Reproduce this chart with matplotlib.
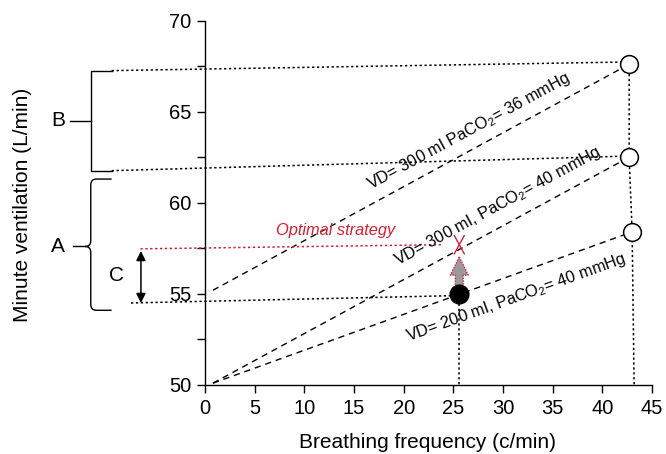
import numpy as np
import matplotlib
matplotlib.use("Agg")
import matplotlib.pyplot as plt
from matplotlib.patches import FancyArrow, PathPatch
from matplotlib.path import Path

plt.rcParams['font.family'] = ['Liberation Sans', 'DejaVu Sans']
plt.rcParams['mathtext.fontset'] = 'custom'
plt.rcParams['mathtext.rm'] = 'Liberation Sans'
plt.rcParams['mathtext.it'] = 'Liberation Sans:italic'

# ---------------- data ----------------
line_labels = ["VD= 300 ml PaCO$_2$= 36 mmHg",
               "VD= 300 ml, PaCO$_2$= 40 mmHg",
               "VD= 200 ml, PaCO$_2$= 40 mmHg"]
line_x_start = [0.8, 0.8, 0.8]
line_y_start = [55.2, 50.1, 50.1]
line_x_end = [42.7, 42.7, 43.0]
line_y_end = [67.6, 62.5, 58.4]

open_x = [42.7, 42.7, 43.0]
open_y = [67.6, 62.5, 58.4]
axis_drop_x = 43.2

current_x = 25.6
current_y = 55.0
optimal_x = 25.6
optimal_y = 57.7

label_pos_x = [26.5, 29.5, 31.3]
label_pos_y = [63.9, 59.8, 54.8]

x_ticks = [0, 5, 10, 15, 20, 25, 30, 35, 40, 45]
y_ticks = [50, 55, 60, 65, 70]
y_minor = [52.5, 57.5, 62.5, 67.5]

red = '#cc2236'

fig = plt.figure(figsize=(6.66, 4.54), dpi=100)
ax = fig.add_axes([205/666, 69/454, 447/666, 364.5/454])
ax.set_xlim(0, 45)
ax.set_ylim(50, 70)

for s in ['top', 'right']:
    ax.spines[s].set_visible(False)
for s in ['left', 'bottom']:
    ax.spines[s].set_linewidth(1.0)
ax.set_xticks(x_ticks)
ax.set_yticks(y_ticks)
ax.set_yticks(y_minor, minor=True)
ax.tick_params(axis='both', which='both', direction='out', length=6, width=1.0)
ax.tick_params(axis='both', which='major', labelsize=14.5, pad=4)

dash = (0, (4.5, 3.5))
dot = (0, (1.5, 1.7))

# dashed iso-lines
for xs, ys, xe, ye in zip(line_x_start, line_y_start, line_x_end, line_y_end):
    ax.plot([xs, xe], [ys, ye], color='black', lw=1.0, linestyle=dash, zorder=2)

def angle(x0, y0, x1, y1):
    p0 = ax.transData.transform((x0, y0))
    p1 = ax.transData.transform((x1, y1))
    return np.degrees(np.arctan2(p1[1]-p0[1], p1[0]-p0[0]))

for lab, lx, ly, xs, ys, xe, ye in zip(line_labels, label_pos_x, label_pos_y,
                                        line_x_start, line_y_start, line_x_end, line_y_end):
    ax.text(lx, ly, lab, rotation=angle(xs, ys, xe, ye), rotation_mode='anchor',
            ha='center', va='center', fontsize=11.8, zorder=5)

# dotted guide lines
kw = dict(color='black', lw=1.1, linestyle=dot, clip_on=False, zorder=2)
ax.plot([-9.4, 42.0], [67.25, 67.72], **kw)
ax.plot([-9.4, 41.9], [61.76, 62.55], **kw)
ax.plot([-7.45, current_x - 0.8], [54.5, 54.9], **kw)
ax.plot([current_x, current_x], [current_y, 50], **kw)
ax.plot(open_x + [axis_drop_x], open_y + [50], **kw)
ax.plot([-6.5, optimal_x - 1.6], [57.47, 57.7], color=red, lw=1.1,
        linestyle=dot, clip_on=False, zorder=2)

# markers
ax.plot(open_x, open_y, 'o', ms=12.8, mfc='white', mec='black', mew=1.1,
        linestyle='none', zorder=6, clip_on=False)
ax.plot([current_x], [current_y], 'o', ms=13.5, color='black', zorder=6)

# red X
ax.plot([optimal_x - 0.5, optimal_x + 0.5], [optimal_y - 0.5, optimal_y + 0.5], color=red, lw=1.0, zorder=6)
ax.plot([optimal_x - 0.5, optimal_x + 0.5], [optimal_y + 0.5, optimal_y - 0.5], color=red, lw=1.0, zorder=6)

# gray arrow
arr = FancyArrow(current_x, 55.38, 0, 57.03 - 55.38, width=0.8, head_width=1.8,
                 head_length=1.0, length_includes_head=True, facecolor='#9a9a9a',
                 edgecolor=red, linestyle=(0, (1, 1)), lw=1.0, zorder=5)
ax.add_patch(arr)

ax.text(13.1, 58.5, 'Optimal strategy', color=red, fontsize=11.8, style='italic',
        ha='center', va='center')

# bracket B
bkw = dict(color='black', lw=1.0, clip_on=False)
ax.plot([-9.4, -11.5, -11.5, -9.4], [67.25, 67.25, 61.76, 61.76], **bkw)
ax.plot([-13.6, -11.5], [64.5, 64.5], **bkw)
ax.text(-14.8, 64.5, 'B', fontsize=15, ha='center', va='center')

# curly brace A
xb, xt, xe = -11.5, -12.05, -9.4
top, bot, mid = 61.3, 54.1, 57.6
verts = [(xe, top), (xb + 0.55, top), (xb, top), (xb, top - 0.33),
         (xb, mid + 0.33), (xb, mid), (xt, mid),
         (xb, mid), (xb, mid - 0.33),
         (xb, bot + 0.33), (xb, bot), (xb + 0.55, bot), (xe, bot)]
codes = [Path.MOVETO, Path.LINETO, Path.CURVE3, Path.CURVE3,
         Path.LINETO, Path.CURVE3, Path.CURVE3,
         Path.CURVE3, Path.CURVE3,
         Path.LINETO, Path.CURVE3, Path.CURVE3, Path.LINETO]
ax.add_patch(PathPatch(Path(verts, codes), facecolor='none', edgecolor='black',
                       lw=1.0, clip_on=False))
ax.plot([-13.3, xt], [mid, mid], **bkw)
ax.text(-14.8, mid, 'A', fontsize=15, ha='center', va='center')

# C arrow
ax.annotate('', xy=(-6.45, 57.35), xytext=(-6.45, 54.5),
            arrowprops=dict(arrowstyle='<|-|>', color='black', lw=1.1,
                            mutation_scale=14, shrinkA=0, shrinkB=0),
            annotation_clip=False)
ax.text(-8.9, 56.0, 'C', fontsize=15, ha='center', va='center')

fig.text(23/666, 1 - 205/454, 'Minute ventilation (L/min)', rotation=90,
         ha='center', va='center', fontsize=15)
fig.text(428/666, 1 - 443/454, 'Breathing frequency (c/min)',
         ha='center', va='center', fontsize=15)

fig.savefig('out.png', dpi=100)
